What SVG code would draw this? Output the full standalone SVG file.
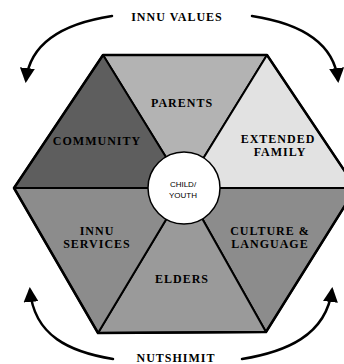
<svg xmlns="http://www.w3.org/2000/svg" width="344" height="364" viewBox="0 0 344 364">
  <style>
    .lbl { font-family: "Liberation Serif", "DejaVu Serif", serif; font-weight: bold; font-size: 12px; letter-spacing: 1px; text-anchor: middle; fill: #000; }
    .core { font-family: "Liberation Sans", Arial, sans-serif; font-size: 8px; text-anchor: middle; fill: #000; }
    .sector { stroke: #000; stroke-width: 2; stroke-linejoin: round; }
    .flow { fill: none; stroke: #000; stroke-width: 2.5; stroke-linecap: round; }
  </style>
  <defs>
    <marker id="head" viewBox="0 0 10 10" refX="8" refY="5" markerWidth="6" markerHeight="6" orient="auto" markerUnits="strokeWidth">
      <path d="M0,0 L10,5 L0,10 z" fill="#000"/>
    </marker>
  </defs>
  <rect width="344" height="364" fill="#fff"/>

  <g id="parents">
    <polygon class="sector" points="185,188 103,55 267,55" fill="#b3b3b3"/>
    <text class="lbl" x="182" y="107">PARENTS</text>
  </g>
  <g id="extended-family">
    <polygon class="sector" points="185,188 267,55 356,188" fill="#e2e2e2"/>
    <text class="lbl" x="278" y="143">EXTENDED</text>
    <text class="lbl" x="280" y="156">FAMILY</text>
  </g>
  <g id="culture-language">
    <polygon class="sector" points="185,188 356,188 266,332" fill="#8c8c8c"/>
    <text class="lbl" x="270" y="235">CULTURE &amp;</text>
    <text class="lbl" x="270" y="248">LANGUAGE</text>
  </g>
  <g id="elders">
    <polygon class="sector" points="185,188 266,332 98,333" fill="#9a9a9a"/>
    <text class="lbl" x="182" y="283">ELDERS</text>
  </g>
  <g id="innu-services">
    <polygon class="sector" points="185,188 98,333 14,188" fill="#8c8c8c"/>
    <text class="lbl" x="97" y="235">INNU</text>
    <text class="lbl" x="97" y="248">SERVICES</text>
  </g>
  <g id="community">
    <polygon class="sector" points="185,188 14,188 103,55" fill="#5e5e5e"/>
    <text class="lbl" x="97" y="145">COMMUNITY</text>
  </g>

  <polygon points="103,55 267,55 356,188 266,332 98,333 14,188" fill="none" stroke="#000" stroke-width="2.5" stroke-linejoin="round"/>

  <g id="child-youth">
    <circle cx="184" cy="188" r="36" fill="#fff" stroke="#000" stroke-width="1.5"/>
    <text class="core" x="183" y="187">CHILD/</text>
    <text class="core" x="183" y="198">YOUTH</text>
  </g>

  <g id="connectors">
    <path class="flow" d="M112,16 C60,24 30,45 26,80" marker-end="url(#head)"/>
    <path class="flow" d="M252,16 C304,24 334,45 338,80" marker-end="url(#head)"/>
    <path class="flow" d="M113,359 C70,352 34,336 30,290" marker-end="url(#head)"/>
    <path class="flow" d="M242,359 C285,352 326,336 332,290" marker-end="url(#head)"/>
  </g>

  <g id="outer-labels">
    <text class="lbl" x="177" y="21">INNU VALUES</text>
    <text class="lbl" x="176" y="362">NUTSHIMIT</text>
  </g>
</svg>
